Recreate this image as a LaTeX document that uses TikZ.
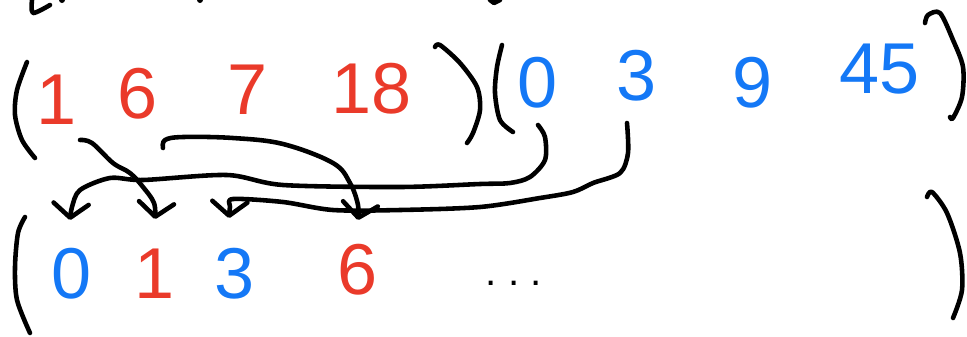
\documentclass[tikz,border=0pt]{standalone}
\usepackage{fontspec}
\setmainfont{Liberation Sans}
\usetikzlibrary{arrows.meta}
\definecolor{hred}{RGB}{234,58,42}
\definecolor{hblue}{RGB}{20,120,246}
\begin{document}
\begin{tikzpicture}[x=0.02cm,y=-0.02cm,
  pen/.style={line width=2.6pt, line cap=round, line join=round},
  arr/.style={pen, -{Straight Barb[length=8pt,width=20pt,round]}},
  dig/.style={inner sep=0pt, font=\fontsize{41}{41}\selectfont},
  rd/.style={dig,text=hred},
  bl/.style={dig,text=hblue}]
\useasboundingbox (0,0) rectangle (967,336);

% top row
\node[rd] (t1)  at (57,100) {1};
\node[rd] (t6)  at (138,94) {6};
\node[rd] (t7)  at (248,90) {7};
\node[rd] (t18) at (372,89) {18};
\node[bl] (u0)  at (538,83) {0};
\node[bl] (u3)  at (637,76) {3};
\node[bl] (u9)  at (753,83) {9};
\node[bl] (u45) at (880,69) {45};

% bottom row
\node[bl] (b0) at (72,274) {0};
\node[rd] (b1) at (155,274) {1};
\node[bl] (b3) at (235,274) {3};
\node[rd] (b6) at (358,270) {6};
\node[inner sep=0pt,anchor=base,font=\fontsize{23}{23}\selectfont] (dots) at (514,285) {.\ .\ .};

% parentheses
\draw[pen] plot[smooth] coordinates {(27,62) (17,90) (15,115) (22,140) (35,158)};
\draw[pen] plot[smooth] coordinates {(435,47) (440,45) (460,63) (477,87) (480,110) (473,133) (467,143)};
\draw[pen] plot[smooth] coordinates {(502,45) (497,67) (495,93) (500,120) (513,132)};
\draw[pen] plot[smooth] coordinates {(925,23) (928,15) (940,13) (953,40) (963,67) (962,97) (953,118) (950,117)};
\draw[pen] plot[smooth] coordinates {(25,217) (18,233) (15,267) (17,300) (30,333)};
\draw[pen] plot[smooth] coordinates {(927,197) (932,192) (947,213) (960,253) (962,290) (953,318)};

% fragments cut at the top edge
\draw[pen] plot[smooth] coordinates {(32,0) (33,13) (50,5)};
\fill (62,0) circle (3);
\fill (200,0) circle (3);
\draw[pen] (490,0) -- (494,3) -- (500,0);

% connector end points
\coordinate (a1s) at (80,140);  \coordinate (a1e) at (155,219);
\coordinate (a2s) at (163,148); \coordinate (a2e) at (358,220);
\coordinate (a3s) at (538,125); \coordinate (a3e) at (70,220);
\coordinate (a4s) at (627,123); \coordinate (a4e) at (229,218);

% connectors
\draw[arr] plot[smooth,tension=0.6] coordinates {(a1s) (92,143) (113,163) (130,173) (143,187) (154,203) (a1e)};
\draw[arr] plot[smooth,tension=0.6] coordinates {(a2s) (165,140) (183,137) (233,138) (283,144) (333,163) (350,183) (358,205) (a2e)};
\draw[arr] plot[smooth,tension=0.5] coordinates {(a3s) (545,137) (545,160) (530,177) (510,183) (480,184) (400,187) (283,185) (227,175) (143,180) (110,178) (80,190) (72,207) (a3e)};
\draw[arr] plot[smooth,tension=0.5] coordinates {(a4s) (628,153) (620,173) (593,183) (573,192) (540,198) (480,207) (400,210) (333,210) (283,202) (233,199) (230,207) (a4e)};
\end{tikzpicture}
\end{document}
